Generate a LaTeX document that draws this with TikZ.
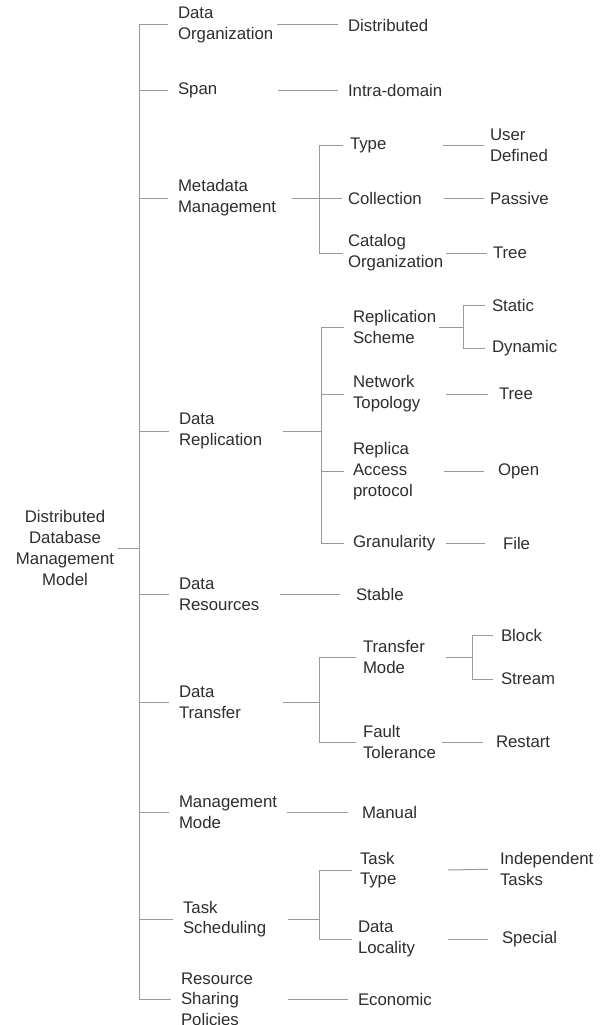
\documentclass[tikz,border=0pt]{standalone}
\usepackage{fontspec}
\setmainfont{Liberation Sans}
\definecolor{ink}{HTML}{2E2E2E}
\definecolor{wire}{HTML}{9A9A9A}
\begin{document}
\begin{tikzpicture}[
  x=1pt, y=-1pt,
  lbl/.style={font=\fontsize{16.8}{20.7}\selectfont, text=ink,
              inner xsep=0pt, inner ysep=0pt, outer sep=0pt,
              anchor=west, align=left},
  link/.style={draw=wire, line width=1pt},
  gap/.style={shorten >=#1pt},
]
\path[use as bounding box, fill=white] (0,0) rectangle (600,1025);

% ---- root ----
\node[lbl, anchor=center, align=center, inner xsep=4pt] (root) at (65,548)
  {Distributed\\Database\\Management\\Model};

% ---- first level ----
\node[lbl, text width=99pt]  (dorg)  at (178,25)  {Data\\Organization};
\node[lbl, text width=100pt] (span)  at (178,90)  {Span};
\node[lbl, text width=114pt] (meta)  at (178,198) {Metadata\\Management};
\node[lbl, text width=104pt] (drep)  at (179,431) {Data\\Replication};
\node[lbl, text width=101pt] (dres)  at (179,594) {Data\\Resources};
\node[lbl, text width=104pt] (dtra)  at (179,702) {Data\\Transfer};
\node[lbl, text width=108pt] (mmode) at (179,812) {Management\\Mode};
\node[lbl, text width=105pt] (tsch)  at (183,919) {Task\\Scheduling};
\node[lbl, text width=107pt] (rsp)   at (181,999) {Resource\\Sharing\\Policies};

% ---- values of the single branches ----
\node[lbl] (dist)  at (348,25)  {Distributed};
\node[lbl] (intra) at (348,90)  {Intra-domain};
\node[lbl] (stab)  at (356,594) {Stable};
\node[lbl] (manu)  at (362,812) {Manual};
\node[lbl] (econ)  at (358,999) {Economic};

% ---- metadata management ----
\node[lbl, text width=93pt] (type) at (350,145) {Type};
\node[lbl, text width=96pt] (coll) at (348,198) {Collection};
\node[lbl, text width=98pt] (cat)  at (348,253) {Catalog\\Organization};
\node[lbl] (udef)  at (490,145) {User\\Defined};
\node[lbl] (pass)  at (490,198) {Passive};
\node[lbl] (tree1) at (493,253) {Tree};

% ---- data replication ----
\node[lbl, text width=86pt] (rsch) at (353,327) {Replication\\Scheme};
\node[lbl, text width=93pt] (ntop) at (353,394) {Network\\Topology};
\node[lbl, text width=91pt] (racc) at (353,471) {Replica\\Access\\protocol};
\node[lbl, text width=93pt] (gran) at (353,543) {Granularity};
\node[lbl] (static)  at (492,305) {Static};
\node[lbl] (dynamic) at (492,348) {Dynamic};
\node[lbl] (tree2)   at (499,394) {Tree};
\node[lbl] (open)    at (498,471) {Open};
\node[lbl] (file)    at (503,543) {File};

% ---- data transfer ----
\node[lbl, text width=83pt] (tmode) at (363,657) {Transfer\\Mode};
\node[lbl, text width=79pt] (fault) at (363,742) {Fault\\Tolerance};
\node[lbl] (block)   at (501,635) {Block};
\node[lbl] (stream)  at (501,679) {Stream};
\node[lbl] (restart) at (496,742) {Restart};

% ---- task scheduling ----
\node[lbl, text width=88pt] (ttype) at (360,870) {Task\\Type};
\node[lbl, text width=90pt] (dloc)  at (358,939) {Data\\Locality};
\node[lbl] (indep) at (500,869) {Independent\\Tasks};
\node[lbl] (spec)  at (502,939) {Special};

% ---- junction columns ----
\coordinate (s0)  at (139,0);
\coordinate (s3)  at (319,0);
\coordinate (s4)  at (321,0);
\coordinate (s4a) at (463,0);
\coordinate (s6)  at (319,0);
\coordinate (s6a) at (472,0);
\coordinate (s8)  at (319,0);

% ---- main spine ----
\draw[link] (root.east) -- (s0 |- root);
\draw[link] (s0 |- dorg) -- (s0 |- rsp);
\foreach \n in {dorg,span,meta,drep,dres,dtra,mmode,tsch,rsp}
  \draw[link, gap=10] (s0 |- \n) -- (\n.west);

% ---- single-valued branches ----
\draw[link, gap=10] (dorg.east)  -- (dist.west);
\draw[link, gap=10] (span.east)  -- (intra.west);
\draw[link, gap=16] (dres.east)  -- (stab.west);
\draw[link, gap=14] (mmode.east) -- (manu.west);
\draw[link, gap=10] (rsp.east)   -- (econ.west);

% ---- metadata management ----
\draw[link] (meta.east) -- (s3 |- meta);
\draw[link] (s3 |- type) -- (s3 |- cat);
\draw[link, gap=7] (s3 |- type) -- (type.west);
\draw[link, gap=6] (s3 |- coll) -- (coll.west);
\draw[link, gap=5] (s3 |- cat)  -- (cat.west);
\draw[link, gap=6] (type.east) -- (udef.west);
\draw[link, gap=6] (coll.east) -- (pass.west);
\draw[link, gap=6] (cat.east)  -- (tree1.west);

% ---- data replication ----
\draw[link] (drep.east) -- (s4 |- drep);
\draw[link] (s4 |- rsch) -- (s4 |- gran);
\foreach \n in {rsch,ntop,racc,gran}
  \draw[link, gap=9] (s4 |- \n) -- (\n.west);
\draw[link] (rsch.east) -- (s4a |- rsch);
\draw[link] (s4a |- static) -- (s4a |- dynamic);
\draw[link, gap=7] (s4a |- static)  -- (static.west);
\draw[link, gap=7] (s4a |- dynamic) -- (dynamic.west);
\draw[link, gap=11] (ntop.east) -- (tree2.west);
\draw[link, gap=14] (racc.east) -- (open.west);
\draw[link, gap=18] (gran.east) -- (file.west);

% ---- data transfer ----
\draw[link] (dtra.east) -- (s6 |- dtra);
\draw[link] (s6 |- tmode) -- (s6 |- fault);
\draw[link, gap=7] (s6 |- tmode) -- (tmode.west);
\draw[link, gap=7] (s6 |- fault) -- (fault.west);
\draw[link] (tmode.east) -- (s6a |- tmode);
\draw[link] (s6a |- block) -- (s6a |- stream);
\draw[link, gap=8] (s6a |- block)  -- (block.west);
\draw[link, gap=8] (s6a |- stream) -- (stream.west);
\draw[link, gap=13] (fault.east) -- (restart.west);

% ---- task scheduling ----
\draw[link] (tsch.east) -- (s8 |- tsch);
\draw[link] (s8 |- ttype) -- (s8 |- dloc);
\draw[link, gap=8] (s8 |- ttype) -- (ttype.west);
\draw[link, gap=6] (s8 |- dloc)  -- (dloc.west);
\draw[link, gap=12] (ttype.east) -- (indep.west);
\draw[link, gap=14] (dloc.east)  -- (spec.west);
\end{tikzpicture}
\end{document}
